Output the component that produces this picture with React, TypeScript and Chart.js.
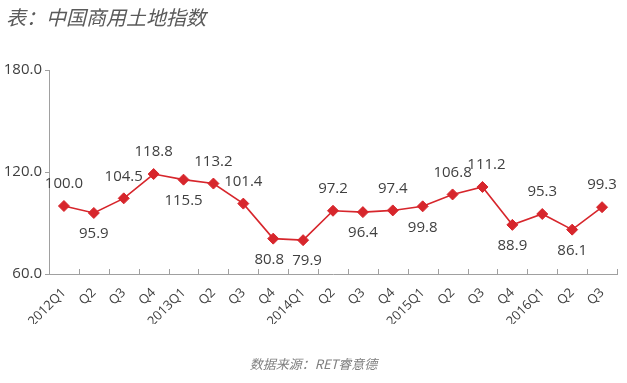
import React, { useEffect, useRef } from "react";
import { Chart, registerables } from "chart.js";

Chart.register(...registerables);

const categories = ["2012Q1","Q2","Q3","Q4","2013Q1","Q2","Q3","Q4","2014Q1","Q2","Q3","Q4","2015Q1","Q2","Q3","Q4","2016Q1","Q2","Q3"];
const values = [100.0, 95.9, 104.5, 118.8, 115.5, 113.2, 101.4, 80.8, 79.9, 97.2, 96.4, 97.4, 99.8, 106.8, 111.2, 88.9, 95.3, 86.1, 99.3];
const labelAbove = [true, false, true, true, false, true, true, false, false, true, false, true, false, true, true, false, true, false, true];
const titleText = "表：中国商用土地指数";
const sourceText = "数据来源：RET睿意德";

const FONT = "'Open Sans', 'Noto Sans CJK SC', sans-serif";

const labelNudge = (i: number) => (i === 7 ? -4 : i === 8 ? 4 : i === 14 ? 4 : 0);

const decorPlugin = {
  id: "decor",
  afterDatasetsDraw(chart: any) {
    const ctx = chart.ctx;
    const meta = chart.getDatasetMeta(0);
    ctx.save();
    ctx.font = `15px ${FONT}`;
    ctx.fillStyle = "#404040";
    ctx.textAlign = "center";
    ctx.textBaseline = "middle";
    meta.data.forEach((el: any, i: number) => {
      const dy = labelAbove[i] ? -22 : 21;
      ctx.fillText(values[i].toFixed(1), el.x + labelNudge(i), el.y + dy);
    });
    const xs = chart.scales.x;
    const n = categories.length;
    const w = (xs.right - xs.left) / n;
    ctx.strokeStyle = "#a0a0a0";
    ctx.lineWidth = 1;
    for (let i = 1; i <= n; i++) {
      const x = Math.round(xs.left + i * w) + 0.5;
      ctx.beginPath();
      ctx.moveTo(x, xs.top);
      ctx.lineTo(x, xs.top - 5);
      ctx.stroke();
    }
    ctx.restore();
  },
  afterDraw(chart: any) {
    const ctx = chart.ctx;
    ctx.save();
    ctx.fillStyle = "#5a5a5a";
    ctx.font = `italic 20px 'Noto Sans CJK SC', sans-serif`;
    ctx.textAlign = "left";
    ctx.textBaseline = "middle";
    ctx.fillText(titleText, 6, 17);
    ctx.fillStyle = "#808080";
    ctx.font = `italic 13px 'Noto Sans CJK SC', sans-serif`;
    ctx.textAlign = "center";
    ctx.fillText(sourceText, chart.width / 2, 364);
    ctx.restore();
  },
};

export default function App() {
  const ref = useRef<HTMLCanvasElement>(null);
  useEffect(() => {
    document.body.style.margin = "0";
    const chart = new Chart(ref.current!, {
      type: "line",
      data: {
        labels: categories,
        datasets: [
          {
            data: values,
            borderColor: "#d7262c",
            backgroundColor: "#d7262c",
            borderWidth: 1.6,
            pointStyle: "rectRot",
            pointRadius: 5.5,
            pointBorderWidth: 1,
            tension: 0,
          },
        ],
      },
      options: {
        animation: false,
        responsive: false,
        maintainAspectRatio: false,
        layout: { padding: { top: 70, right: 10, bottom: 59, left: 0 } },
        plugins: { legend: { display: false }, tooltip: { enabled: false } },
        scales: {
          x: {
            offset: true,
            afterFit: (s: any) => { s.height = 50; },
            grid: { display: false, drawOnChartArea: false },
            border: { display: true, color: "#a0a0a0", width: 1 },
            ticks: {
              maxRotation: 45,
              minRotation: 45,
              autoSkip: false,
              color: "#404040",
              padding: 3,
              font: { size: 13, family: FONT },
            },
          },
          y: {
            min: 60,
            max: 180,
            afterFit: (s: any) => { s.width = 49; },
            ticks: {
              stepSize: 60,
              color: "#404040",
              padding: 3,
              font: { size: 15, family: FONT },
              callback: (v: any) => Number(v).toFixed(1),
            },
            grid: { drawOnChartArea: false, tickLength: 4, color: "#a0a0a0" },
            border: { color: "#a0a0a0", width: 1 },
          },
        },
      },
      plugins: [decorPlugin],
    });
    return () => chart.destroy();
  }, []);
  return (
    <div style={{ position: "absolute", left: 0, top: 0, width: 627, height: 383, background: "#fff" }}>
      <canvas ref={ref} width={627} height={383} />
    </div>
  );
}
